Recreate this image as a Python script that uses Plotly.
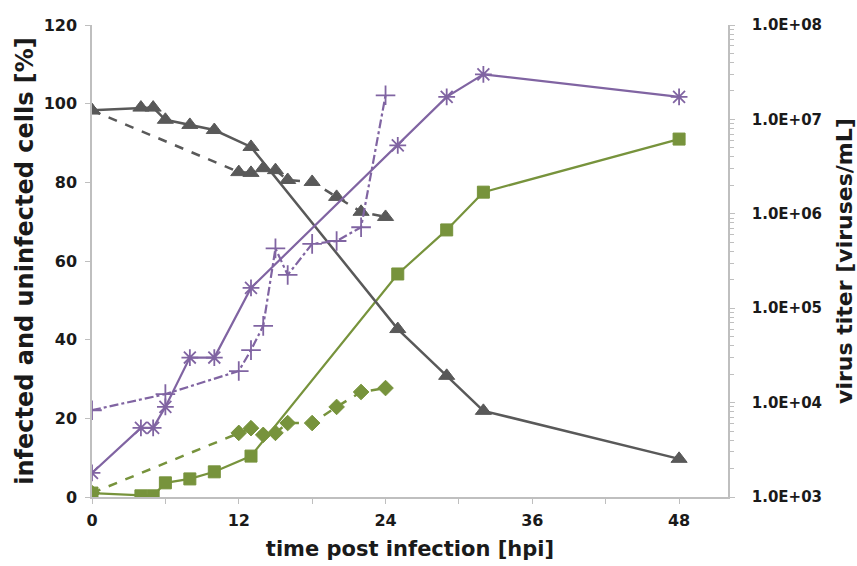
import plotly.graph_objects as go

# ---- data ----
# uninfected cells [%], solid
unif_solid_t = [0, 4, 5, 6, 8, 10, 13, 25, 29, 32, 48]
unif_solid_v = [98.3, 99.0, 99.0, 95.9, 94.6, 93.3, 89.0, 42.7, 30.8, 21.9, 9.7]
# uninfected cells [%], dashed
unif_dash_t = [0, 12, 13, 14, 15, 16, 18, 20, 22, 24]
unif_dash_v = [98.3, 82.6, 82.4, 83.6, 83.1, 80.6, 80.1, 76.3, 72.5, 71.2]
# infected cells [%], solid
inf_solid_t = [0, 4, 5, 6, 8, 10, 13, 25, 29, 32, 48]
inf_solid_v = [1.0, 0.3, 0.3, 3.6, 4.6, 6.4, 10.4, 56.7, 67.9, 77.5, 91.0]
# infected cells [%], dashed
inf_dash_t = [0, 12, 13, 14, 15, 16, 18, 20, 22, 24]
inf_dash_v = [1.0, 16.3, 17.5, 15.8, 16.3, 18.8, 18.8, 22.9, 26.7, 27.7]
# virus titer [viruses/mL], solid
titer_solid_t = [0, 4, 5, 6, 8, 10, 13, 25, 29, 32, 48]
titer_solid_v = [1.8e3, 5.4e3, 5.4e3, 9.0e3, 3.0e4, 3.0e4, 1.64e5, 5.3e6, 1.73e7, 3.0e7, 1.73e7]
# virus titer [viruses/mL], dash-dot
titer_dd_t = [0, 6, 12, 13, 14, 15, 16, 18, 20, 22, 24]
titer_dd_v = [8.3e3, 1.23e4, 2.16e4, 3.6e4, 6.5e4, 4.3e5, 2.25e5, 4.8e5, 5.15e5, 7.2e5, 1.8e7]

x_ticks = [0, 12, 24, 36, 48]
y_ticks = [0, 20, 40, 60, 80, 100, 120]
y2_ticks = [1e3, 1e4, 1e5, 1e6, 1e7, 1e8]
y2_labels = ["1.0E+03", "1.0E+04", "1.0E+05", "1.0E+06", "1.0E+07", "1.0E+08"]

GRAY = "#595959"
GREEN = "#77933C"
PURPLE = "#8064A2"
FONT = "DejaVu Sans"
TXT = "#1a1a1a"

fig = go.Figure()

def add(t, v, color, dash, symbol, size, yaxis="y", width=2.5, mlw=1.5):
    fig.add_trace(go.Scatter(
        x=t, y=v, yaxis=yaxis, mode="lines+markers",
        line=dict(color=color, width=width, dash=dash),
        marker=dict(symbol=symbol, size=size, color=color,
                    line=dict(color=color, width=mlw)),
        showlegend=False))

add(titer_dd_t, titer_dd_v, PURPLE, "dashdot", "cross-thin-open", 14, "y2", 2.2, 1.8)
add(titer_solid_t, titer_solid_v, PURPLE, "solid", "asterisk-open", 14, "y2", 2.2, 1.8)
add(inf_dash_t, inf_dash_v, GREEN, "dash", "diamond", 12, "y", 2.5, 1)
add(inf_solid_t, inf_solid_v, GREEN, "solid", "square", 12, "y", 2.2, 1)
add(unif_dash_t, unif_dash_v, GRAY, "dash", "triangle-up", 14, "y", 2.5, 1)
add(unif_solid_t, unif_solid_v, GRAY, "solid", "triangle-up", 14, "y", 2.5, 1)

fig.update_layout(
    width=857, height=566,
    margin=dict(l=92, r=129, t=25, b=69, autoexpand=False),
    paper_bgcolor="white", plot_bgcolor="white",
    font=dict(family=FONT, color=TXT),
    xaxis=dict(
        range=[0, 52], showgrid=False, zeroline=False, automargin=False,
        showline=True, linecolor="#BFBFBF", linewidth=1.5,
        tickmode="array", tickvals=x_ticks,
        ticks="outside", ticklen=5, tickcolor="#BFBFBF",
        minor=dict(dtick=6, tick0=0, ticks="outside", ticklen=5, tickcolor="#BFBFBF"),
        tickfont=dict(family=FONT, size=16, color=TXT, weight="bold"),
        ticklabelstandoff=3,
        title=dict(text="time post infection [hpi]",
                   font=dict(family=FONT, size=21, color=TXT, weight="bold"),
                   standoff=12),
    ),
    yaxis=dict(
        range=[0, 120], showgrid=False, zeroline=False, automargin=False,
        showline=True, linecolor="#BFBFBF", linewidth=1.5,
        tickmode="array", tickvals=y_ticks,
        ticks="outside", ticklen=5, tickcolor="#BFBFBF",
        tickfont=dict(family=FONT, size=16, color=TXT, weight="bold"),
        ticklabelstandoff=5,
        title=dict(text="infected and uninfected cells [%]",
                   font=dict(family=FONT, size=24, color=TXT, weight="bold"),
                   standoff=3),
    ),
    yaxis2=dict(
        type="log", range=[3, 8], overlaying="y", side="right", anchor="x",
        showgrid=False, zeroline=False, automargin=False,
        showline=True, linecolor="#BFBFBF", linewidth=1.5,
        tickmode="array", tickvals=y2_ticks, ticktext=y2_labels,
        ticks="outside", ticklen=5, tickcolor="#BFBFBF",
        minor=dict(ticks="outside", ticklen=4, tickcolor="#BFBFBF",
                   tickvals=[m * 10 ** e for e in range(3, 8) for m in range(2, 10)]),
        tickfont=dict(family=FONT, size=15, color=TXT, weight="bold"),
        ticklabelstandoff=14,
        title=dict(text="virus titer [viruses/mL]",
                   font=dict(family=FONT, size=22, color=TXT, weight="bold"),
                   standoff=16),
    ),
)

fig.write_html("out.html")
